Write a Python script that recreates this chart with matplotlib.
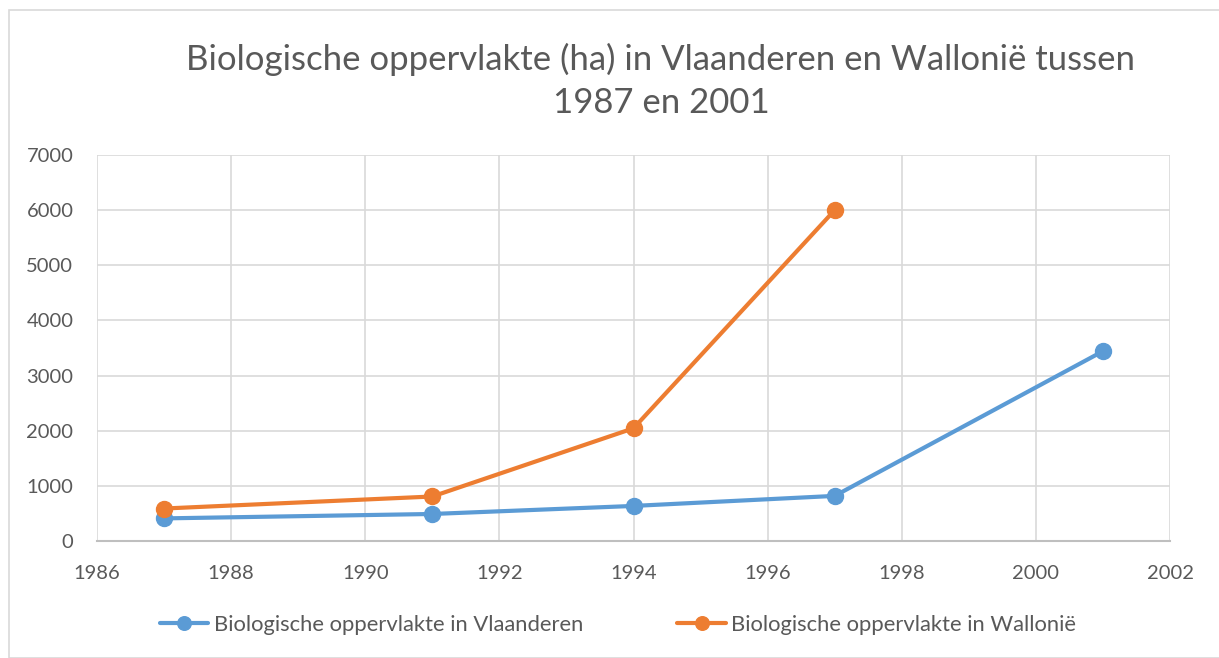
import matplotlib
matplotlib.use("Agg")
import matplotlib.pyplot as plt
from matplotlib.patches import Rectangle

plt.rcParams['font.family'] = ['Lato', 'DejaVu Sans']

years_vl = [1987, 1991, 1994, 1997, 2001]
vals_vl = [410, 490, 636, 818, 3442]
years_wa = [1987, 1991, 1994, 1997]
vals_wa = [589, 807, 2044, 6000]
label_vl = "Biologische oppervlakte in Vlaanderen"
label_wa = "Biologische oppervlakte in Wallonië"
title = "Biologische oppervlakte (ha) in Vlaanderen en Wallonië tussen\n1987 en 2001"
xticks = list(range(1986, 2003, 2))
yticks = list(range(0, 7001, 1000))

W, H = 1219, 658
fig = plt.figure(figsize=(W/100, H/100), dpi=100)
fig.patches.append(Rectangle((9/W, 0), 1.2, 1 - 10/H, transform=fig.transFigure,
                             fill=False, edgecolor='#d9d9d9', linewidth=1.2))
ax = fig.add_axes([97/W, 1 - 541/H, (1170-97)/W, (541-155)/H])

blue = '#5b9bd5'
orange = '#ed7d31'
ax.plot(years_vl, vals_vl, color=blue, lw=3, marker='o', ms=11.5, label=label_vl, solid_capstyle='round')
ax.plot(years_wa, vals_wa, color=orange, lw=3, marker='o', ms=11.5, label=label_wa, solid_capstyle='round')

ax.set_xlim(1986, 2002)
ax.set_ylim(0, 7000)
ax.set_xticks(xticks)
ax.set_yticks(yticks)
ax.grid(True, color='#d9d9d9', lw=1.2)
ax.set_axisbelow(True)
for s in ['top', 'right', 'left']:
    ax.spines[s].set_visible(False)
ax.spines['bottom'].set_color('#bfbfbf')
ax.spines['bottom'].set_linewidth(1.5)
ax.tick_params(length=0, labelsize=14.5, colors='#595959')
ax.tick_params(axis='x', pad=17)
ax.tick_params(axis='y', pad=17)

fig.text(661/W, 1 - 81/H, title, ha='center', va='center', fontsize=25,
         color='#595959', linespacing=1.4)

leg = fig.legend(loc='center', bbox_to_anchor=(618/W, 1 - 625/H), ncol=2, frameon=False,
                 fontsize=15.8, handlelength=2.2, columnspacing=4.3, handletextpad=0.25,
                 markerscale=0.85)
for t in leg.get_texts():
    t.set_color('#595959')

fig.savefig('out.png', dpi=100)
